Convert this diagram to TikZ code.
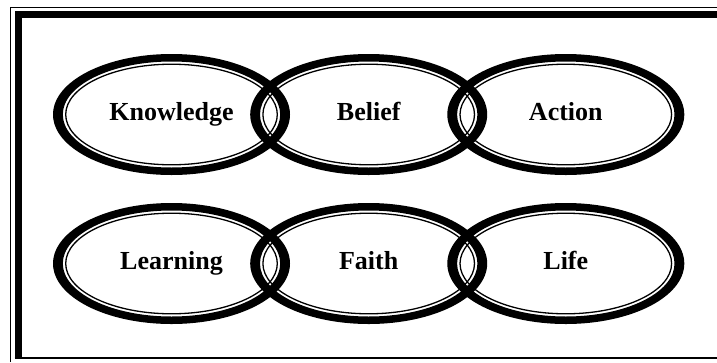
\documentclass[tikz,border=0pt]{standalone}
\usepackage{fontspec}
\setmainfont{Liberation Serif}
\begin{document}
\begin{tikzpicture}[x=1pt,y=-1pt,
  lbl/.style={anchor=base,inner sep=0pt,font=\fontsize{26}{30}\selectfont\bfseries},
  ring/.pic={
    \fill[black,even odd rule] (0,0) ellipse[x radius=118.5pt,y radius=60.5pt]
                                (0,0) ellipse[x radius=108.7pt,y radius=53pt];
    \draw[line width=1.3pt] (0,0) ellipse[x radius=105.8pt,y radius=50.3pt];
  }]
\useasboundingbox (0,0) rectangle (717,362);
% page border
\draw[line width=1.3pt] (10.8,362) -- (10.8,7.7) -- (717,7.7);
\draw[line width=7.3pt,line join=miter] (18.35,357.5) -- (18.35,14.65) -- (717,14.65);
\draw[line width=2pt] (14.7,358.3) -- (717,358.3);
% centres
\coordinate (kc) at (171.5,114.5);
\coordinate (bc) at (368.7,114.5);
\coordinate (ac) at (565.8,114.5);
\coordinate (lc) at (171.5,263.5);
\coordinate (fc) at (368.7,263.5);
\coordinate (lic) at (565.8,263.5);
% rings
\pic at (kc) {ring};
\pic at (bc) {ring};
\pic at (ac) {ring};
\pic at (lc) {ring};
\pic at (fc) {ring};
\pic at (lic) {ring};
% labels
\node[lbl] (k) at ([yshift=-5.5pt]kc) {Knowledge};
\node[lbl] (b) at ([yshift=-5.5pt]bc) {Belief};
\node[lbl] (a) at ([yshift=-5.5pt]ac) {Action};
\node[lbl] (l) at ([yshift=-5.5pt]lc) {Learning};
\node[lbl] (f) at ([yshift=-5.5pt]fc) {Faith};
\node[lbl] (li) at ([yshift=-5.5pt]lic) {Life};
\end{tikzpicture}
\end{document}
